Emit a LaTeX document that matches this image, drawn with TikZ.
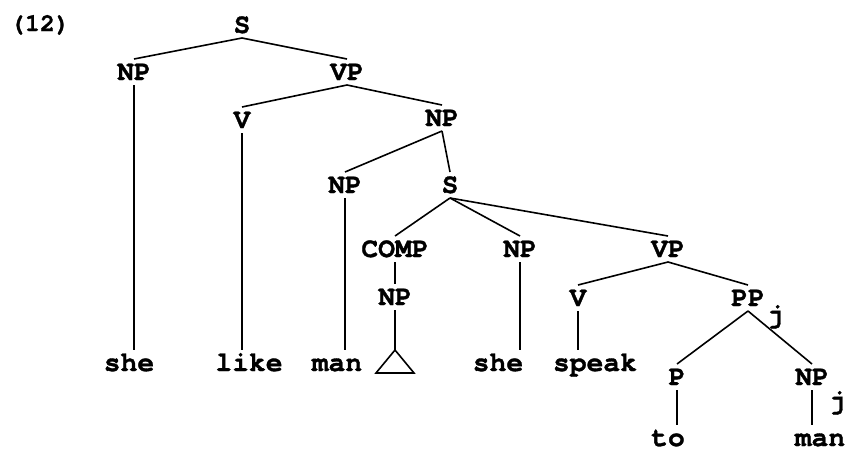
\documentclass[tikz,border=0pt]{standalone}
\usepackage{fontspec}
\setmonofont{texgyrecursor}[Extension=.otf,UprightFont=*-regular,BoldFont=*-bold,BoldFeatures={FakeBold=1.2}]
\usepackage{tikz}
\usetikzlibrary{positioning}

\begin{document}
\begin{tikzpicture}[x=1pt,y=-1pt,on grid,line width=1.6pt,
    every node/.style={font=\ttfamily\bfseries\fontsize{28}{30}\selectfont,
      inner sep=0pt,outer sep=5pt,text height=16pt,text depth=0pt}]
    \useasboundingbox (0,0) rectangle (845,453);
    \node (ex) at (40,23) {\fontsize{25}{30}\selectfont(12)};
    \node (s) at (242,25) {S};
    \node (np1) [below left=47pt and 108pt of s] {NP};
    \node (vp1) [below right=47pt and 105pt of s] {VP};
    \node (v1) [below left=48pt and 105pt of vp1] {V};
    \node (np2) [below right=46pt and 95pt of vp1] {NP};
    \node (np3) [below left=67pt and 97pt of np2] {NP};
    \node (s2) [below right=67pt and 8pt of np2] {S};
    \node (comp) [below left=64pt and 55pt of s2] {COMP};
    \node (np4) [below right=64pt and 70pt of s2] {NP};
    \node (vp2) [below right=64pt and 218pt of s2] {VP};
    \node (np5) [below=48pt of comp] {NP};
    \node (v2) [below left=49pt and 90pt of vp2] {V};
    \node (pp) [below right=49pt and 80pt of vp2] {PP\rlap{\kern2pt\raisebox{-17pt}{j}}};
    \node (p) [below left=79pt and 71pt of pp] {P};
    \node (npj) [below right=79pt and 64pt of pp] {NP\rlap{\raisebox{-24pt}{j}}};
    \node (she) [below left=291pt and 5pt of np1] {she};
    \node (like) [below right=243pt and 7pt of v1] {like};
    \node (man) [below left=178pt and 8pt of np3] {man};
    \coordinate [below=53pt of np5] (tri);
    \node (she2) [below left=114pt and 22pt of np4] {she};
    \node (speak) [below right=65pt and 17pt of v2] {speak};
    \node (to) [below left=61pt and 9pt of p] {to};
    \node (man2) [below right=61pt and 8pt of npj] {man};
    \draw (tri) -- ++(-19,23) -- ++(38,0) -- cycle;
    \path
    (s.south)
    edge (np1.north)
    edge (vp1.north)
    (np1.south)
    edge (np1.south |- she.north)
    (vp1.south)
    edge (v1.north)
    edge (np2.north)
    (v1.south)
    edge (v1.south |- like.north)
    (np2.south)
    edge (np3.north)
    edge (s2.north)
    (np3.south)
    edge (np3.south |- man.north)
    (s2.south)
    edge (comp.north)
    edge (np4.north)
    edge (vp2.north)
    (comp.south)
    edge (np5.north)
    (np5.south)
    edge (tri)
    (np4.south)
    edge (np4.south |- she2.north)
    (vp2.south)
    edge (v2.north)
    edge (pp.north)
    (v2.south)
    edge (v2.south |- speak.north)
    (pp.south)
    edge (p.north)
    edge (npj.north)
    (p.south)
    edge (p.south |- to.north)
    (npj.south)
    edge (npj.south |- man2.north)
    ;
\end{tikzpicture}
\end{document}
